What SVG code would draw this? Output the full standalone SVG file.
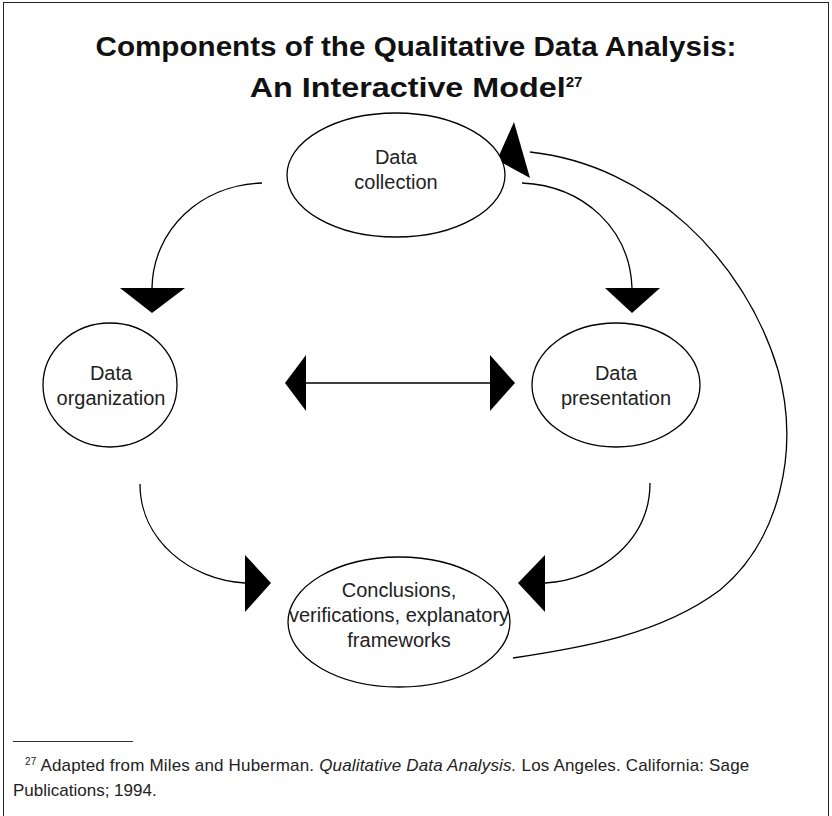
<svg xmlns="http://www.w3.org/2000/svg" width="832" height="816" viewBox="0 0 832 816">
<style>
.frame{fill:none;stroke:#222;stroke-width:1}
.title{font-family:"Liberation Sans",Arial,sans-serif;font-weight:bold;font-size:27px;fill:#111;text-anchor:middle}
.node ellipse{fill:#fff;stroke:#000;stroke-width:1.3}
.node text{font-family:"Liberation Sans",Arial,sans-serif;font-size:20px;fill:#222;text-anchor:middle}
.conn path{fill:none;stroke:#000;stroke-width:1.3}
.conn polygon{fill:#000;stroke:none}
.foot{font-family:"Liberation Sans",Arial,sans-serif;font-size:17px;fill:#222}
</style>
<rect class="frame" x="3.5" y="2.5" width="825" height="830"/>
<g id="title">
<text class="title" x="416" y="56" textLength="641" lengthAdjust="spacingAndGlyphs">Components of the Qualitative Data Analysis:</text>
<text class="title" x="416" y="97"><tspan textLength="316" lengthAdjust="spacingAndGlyphs">An Interactive Model</tspan><tspan font-size="15" dy="-10">27</tspan></text>
</g>
<g id="connectors" class="conn">
<path d="M262,183 C200,185 153,230 152,288"/>
<polygon points="120,288 185,288 152,313"/>
<path d="M522,183 C585,186 630,230 632,288"/>
<polygon points="605,288 660,288 632,313"/>
<path d="M530,152 C650,165 745,260 778,370 C800,450 780,540 720,590 C660,635 580,648 513,658"/>
<polygon points="514,122 530,178 497,160"/>
<path d="M303,383 H492"/>
<polygon points="285,383 306,355 306,411"/>
<polygon points="515,383 490,355 490,411"/>
<path d="M140,484 C140,540 190,580 245,583"/>
<polygon points="271,583 245,555 245,612"/>
<path d="M650,483 C650,540 600,580 545,583"/>
<polygon points="518,583 545,555 545,612"/>
</g>
<g id="node-collection" class="node">
<ellipse cx="396" cy="175" rx="109" ry="62"/>
<text x="396" y="164">Data</text>
<text x="396" y="189">collection</text>
</g>
<g id="node-organization" class="node">
<ellipse cx="110" cy="385" rx="67" ry="62"/>
<text x="111" y="380">Data</text>
<text x="111" y="405">organization</text>
</g>
<g id="node-presentation" class="node">
<ellipse cx="616" cy="385" rx="84" ry="62"/>
<text x="616" y="380">Data</text>
<text x="616" y="405">presentation</text>
</g>
<g id="node-conclusions" class="node">
<ellipse cx="399" cy="622" rx="111" ry="65"/>
<text x="399" y="597">Conclusions,</text>
<text x="399" y="622">verifications, explanatory</text>
<text x="399" y="647">frameworks</text>
</g>
<g id="footnote">
<line x1="13" y1="741.5" x2="133" y2="741.5" stroke="#333" stroke-width="1"/>
<text class="foot" x="25" y="771" letter-spacing="0.17"><tspan font-size="10" dy="-6">27</tspan><tspan dy="6"> Adapted from Miles and Huberman. </tspan><tspan font-style="italic">Qualitative Data Analysis.</tspan><tspan> Los Angeles. California: Sage</tspan></text>
<text class="foot" x="13" y="796">Publications; 1994.</text>
</g>
</svg>
